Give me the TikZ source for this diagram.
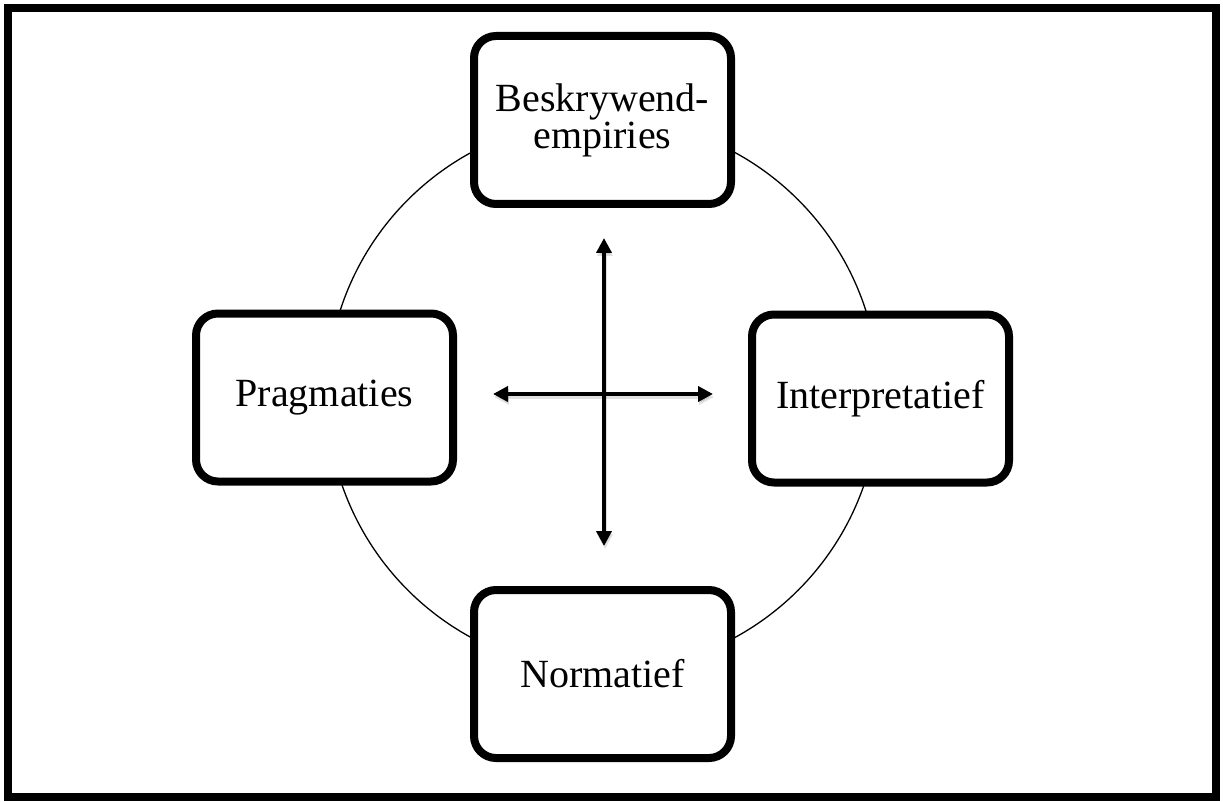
\documentclass[tikz,border=0pt]{standalone}
\usepackage{fontspec}
\setmainfont{Liberation Serif}
\usetikzlibrary{arrows.meta,shadows}
\begin{document}
\begin{tikzpicture}[x=1pt,y=-1pt,
  box/.style={draw=black, fill=white, line width=8pt, rounded corners=22pt,
    minimum width=257pt, minimum height=168pt, inner sep=0pt, align=center,
    font=\fontsize{40}{37}\selectfont,
    drop shadow={opacity=0.25, shadow xshift=1pt, shadow yshift=-3pt}},
  arr/.style={line width=4pt, {Triangle[length=15pt,width=15pt]}-{Triangle[length=15pt,width=15pt]}},
  arrshadow/.style={line width=4pt, black, opacity=0.12, {Triangle[length=15pt,width=15pt]}-{Triangle[length=15pt,width=15pt]}}]
\useasboundingbox (0,0) rectangle (1223,802);
\draw[line width=8pt] (8,8) rectangle (1216,797);
\node[circle, draw, line width=1.3pt, minimum size=552pt, inner sep=0pt] (ring) at (603,395) {};
\node[box] (top) at (602.5,120) {Beskrywend-\\empiries};
\node[box] (left) at (324.5,397.5) {Pragmaties};
\node[box] (right) at (880.5,398.5) {Interpretatief};
\node[box] (bottom) at (602.5,674) {Normatief};
\coordinate (vt) at (604,238);
\coordinate (vb) at (604,546);
\coordinate (hl) at (493,394);
\coordinate (hr) at (713,394);
\draw[arrshadow] ([shift={(1,3)}]vt) -- ([shift={(1,3)}]vb);
\draw[arrshadow] ([shift={(1,3)}]hl) -- ([shift={(1,3)}]hr);
\draw[arr] (vt) -- (vb);
\draw[arr] (hl) -- (hr);
\end{tikzpicture}
\end{document}
